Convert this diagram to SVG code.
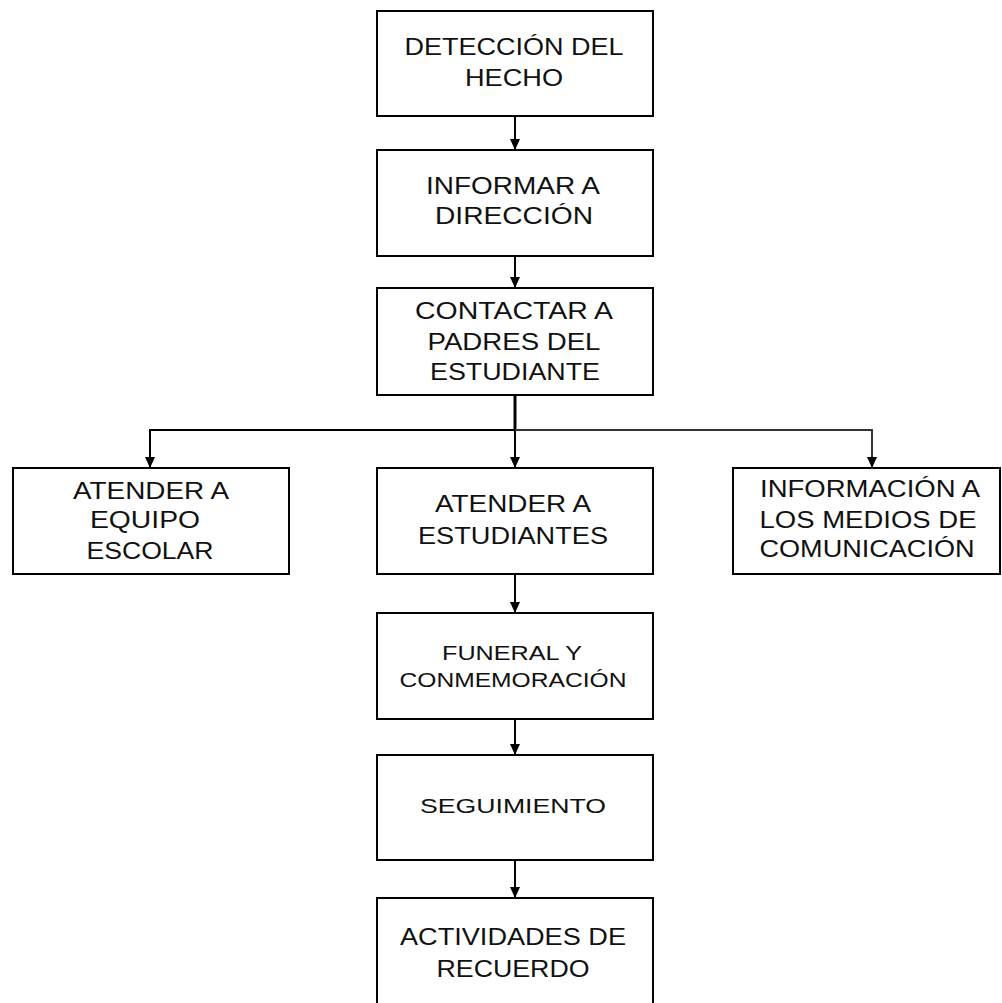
<svg xmlns="http://www.w3.org/2000/svg" width="1002" height="1003" viewBox="0 0 1002 1003">
<style>
.box{fill:#fff;stroke:#000;stroke-width:2}
.t{font-family:"Liberation Sans",Arial,sans-serif;font-size:24px;fill:#111;text-anchor:middle}
.s{font-size:21px}
.c{fill:none;stroke:#000;stroke-width:2}
</style>
<defs>
<marker id="ah" markerUnits="userSpaceOnUse" markerWidth="12" markerHeight="12" viewBox="0 0 12 12" refX="11" refY="6" orient="auto">
<path d="M0,1 L11,6 L0,11 Z" fill="#000"/>
</marker>
</defs>
<rect width="1002" height="1003" fill="#fff"/>
<g id="connectors">
<line class="c" x1="515" y1="116" x2="515" y2="150" marker-end="url(#ah)"/>
<line class="c" x1="515" y1="256" x2="515" y2="288" marker-end="url(#ah)"/>
<line class="c" x1="515" y1="395" x2="515" y2="430" style="stroke-width:3"/>
<line class="c" x1="515" y1="430" x2="515" y2="468" marker-end="url(#ah)"/>
<polyline class="c" points="515,430 150,430 150,468" marker-end="url(#ah)"/>
<polyline class="c" points="515,430 872,430 872,468" style="stroke:#333" marker-end="url(#ah)"/>
<line class="c" x1="515" y1="574" x2="515" y2="613" marker-end="url(#ah)"/>
<line class="c" x1="515" y1="719" x2="515" y2="755" marker-end="url(#ah)"/>
<line class="c" x1="515" y1="860" x2="515" y2="898" marker-end="url(#ah)"/>
</g>
<g id="n1"><rect class="box" x="377" y="11" width="276" height="105"/>
<text class="t" x="514" y="55" textLength="219" lengthAdjust="spacingAndGlyphs">DETECCIÓN DEL</text><text class="t" x="514" y="86" textLength="98" lengthAdjust="spacingAndGlyphs">HECHO</text></g>
<g id="n2"><rect class="box" x="377" y="150" width="276" height="106"/>
<text class="t" x="513" y="194" textLength="174" lengthAdjust="spacingAndGlyphs">INFORMAR A</text><text class="t" x="514" y="224" textLength="158" lengthAdjust="spacingAndGlyphs">DIRECCIÓN</text></g>
<g id="n3"><rect class="box" x="377" y="288" width="276" height="107"/>
<text class="t" x="514" y="319" textLength="198" lengthAdjust="spacingAndGlyphs">CONTACTAR A</text><text class="t" x="514" y="350" textLength="173" lengthAdjust="spacingAndGlyphs">PADRES DEL</text><text class="t" x="515" y="380" textLength="170" lengthAdjust="spacingAndGlyphs">ESTUDIANTE</text></g>
<g id="n4"><rect class="box" x="13" y="468" width="276" height="106"/>
<text class="t" x="151" y="499" textLength="156" lengthAdjust="spacingAndGlyphs">ATENDER A</text><text class="t" x="145" y="528" textLength="110" lengthAdjust="spacingAndGlyphs">EQUIPO</text><text class="t" x="150" y="559" textLength="127" lengthAdjust="spacingAndGlyphs">ESCOLAR</text></g>
<g id="n5"><rect class="box" x="377" y="468" width="276" height="106"/>
<text class="t" x="513" y="512" textLength="156" lengthAdjust="spacingAndGlyphs">ATENDER A</text><text class="t" x="513" y="544" textLength="190" lengthAdjust="spacingAndGlyphs">ESTUDIANTES</text></g>
<g id="n6"><rect class="box" x="733" y="468" width="267" height="106"/>
<text class="t" x="870" y="497" textLength="220" lengthAdjust="spacingAndGlyphs">INFORMACIÓN A</text><text class="t" x="868" y="528" textLength="217" lengthAdjust="spacingAndGlyphs">LOS MEDIOS DE</text><text class="t" x="867" y="557" textLength="215" lengthAdjust="spacingAndGlyphs">COMUNICACIÓN</text></g>
<g id="n7"><rect class="box" x="377" y="613" width="276" height="106"/>
<text class="t s" x="512" y="660" textLength="140" lengthAdjust="spacingAndGlyphs">FUNERAL Y</text><text class="t s" x="513" y="687" textLength="227" lengthAdjust="spacingAndGlyphs">CONMEMORACIÓN</text></g>
<g id="n8"><rect class="box" x="377" y="755" width="276" height="105"/>
<text class="t s" x="513" y="813" textLength="186" lengthAdjust="spacingAndGlyphs">SEGUIMIENTO</text></g>
<g id="n9"><rect class="box" x="377" y="898" width="276" height="120"/>
<text class="t" x="513" y="945" textLength="226" lengthAdjust="spacingAndGlyphs">ACTIVIDADES DE</text><text class="t" x="513" y="977" textLength="153" lengthAdjust="spacingAndGlyphs">RECUERDO</text></g>
</svg>
